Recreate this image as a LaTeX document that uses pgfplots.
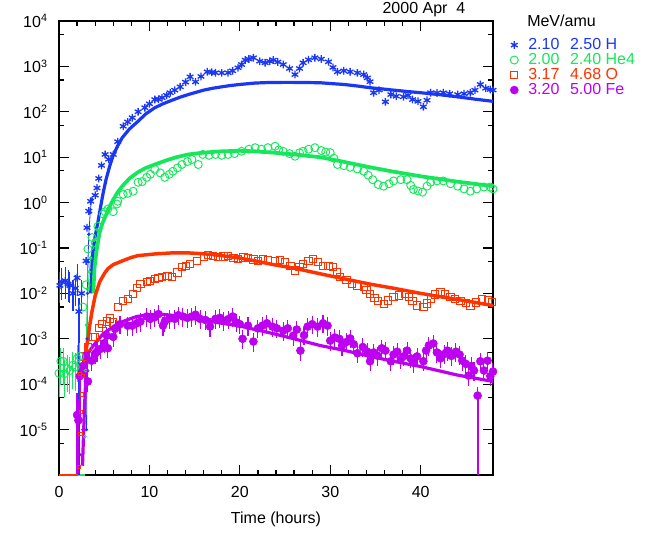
\documentclass[border=0pt]{standalone}
\usepackage{pgfplots}
\pgfplotsset{compat=1.18}
\usepackage{fontspec}
\setmainfont{Liberation Sans}
\usetikzlibrary{calc}
\definecolor{hcol}{RGB}{25,55,245}
\definecolor{hecol}{RGB}{20,232,90}
\definecolor{ocol}{RGB}{255,50,0}
\definecolor{fecol}{RGB}{190,0,240}
\begin{document}
\begin{tikzpicture}
\begin{axis}[
 name=ax,
 scale only axis, width=325.5pt, height=340.5pt,
 ymode=log, xmin=0, xmax=48, ymin=1e-6, ymax=1e4,
 axis line style={line width=1pt},
 every tick/.style={black, line width=0.9pt},
 major tick length=7.5pt, minor tick length=3.8pt,
 xtick={0,10,20,30,40}, minor x tick num=4,
 ytick={1e-5,1e-4,1e-3,1e-2,1e-1,1,10,100,1000,10000},
 yticklabels={10\textsuperscript{-5},10\textsuperscript{-4},10\textsuperscript{-3},10\textsuperscript{-2},10\textsuperscript{-1},10\textsuperscript{0},10\textsuperscript{1},10\textsuperscript{2},10\textsuperscript{3},10\textsuperscript{4}},
 minor ytick={5e-6,5e-5,5e-4,5e-3,5e-2,0.5,5,50,500,5000},
 /pgf/number format/assume math mode=true,
 tick label style={font=\fontsize{12}{14}\selectfont},
 yticklabel style={xshift=-5pt},
 xticklabel style={yshift=-5pt},
 xlabel={Time (hours)},
 xlabel style={font=\fontsize{12}{14}\selectfont, yshift=-4pt},
 legend style={draw=none, fill=none, at={(1.03,0.970)}, anchor=north west,
   font=\fontsize{12}{14}\selectfont, row sep=0pt, column sep=7.5pt,
   nodes={inner sep=0pt, text height=8.6pt, text depth=2.65pt}},
 legend cell align=left,
]
% ---- floor segments
\addplot[ocol, line width=2pt, forget plot] coordinates {(0,1e-6) (2.1,1e-6)};
\addplot[hecol, line width=2pt, forget plot] coordinates {(2.1,1e-6) (2.9,1e-6)};
% ---- long lower error bars reaching the floor
\addplot[fecol, line width=1.3pt, forget plot] coordinates {(46.3,5.6e-5) (46.3,1e-6)};
\addplot[hcol, line width=1.1pt, forget plot] coordinates {(2.2,8.0e-3) (2.2,1e-6)};
% ---- main data series (legend)
\addplot[hcol, only marks, mark=asterisk, mark size=2.9pt, line width=1pt] coordinates {
(3.0,5.2e-2)(3.1,0.28)(3.3,0.65)(3.5,1.07)(4.0,1.45)(4.2,2.1)(4.4,3.4)(4.7,6.6)(5.1,11.5)(5.5,9.0)(6.0,11.5)(6.5,22)(7.1,48)(7.6,60)(8.1,74)(8.75,100)(9.5,123)(10.0,150)(10.6,186)(11.0,190)(11.4,204)(11.9,230)(12.3,263)(12.8,300)(13.4,355)(14.0,450)(14.5,590)(15.1,457)(15.7,600)(16.4,760)(16.9,740)(17.3,724)(18.0,720)(18.7,724)(19.2,800)(19.8,933)(20.2,1100)(20.6,1380)(21.0,1450)(21.5,1550)(22.2,1300)(22.8,1200)(23.3,1300)(23.7,1380)(24.2,1250)(24.8,1100)(25.5,900)(26.1,660)(26.6,900)(27.0,1200)(27.6,1400)(28.3,1550)(29.0,1450)(29.8,1260)(30.3,950)(30.8,760)(31.5,800)(32.2,760)(33.0,720)(33.7,660)(34.1,560)(34.4,460)(34.8,263)(35.4,300)(36.1,166)(36.7,240)(37.3,220)(38.1,214)(38.6,230)(39.1,186)(39.7,170)(40.3,129)(40.7,180)(41.1,263)(41.8,260)(42.5,263)(43.2,250)(44.1,240)(44.8,250)(45.5,263)(46.0,300)(46.6,400)(47.2,330)(47.7,310)(48.0,300)};
\addlegendentry{\textcolor{hcol}{2.10\hspace{8pt}2.50 H}}
\addplot[hecol, only marks, mark=o, mark size=3pt, line width=0.7pt] coordinates {
(2.65,5.0e-3)(3.0,1.55e-2)(3.2,9.5e-2)(3.65,0.17)(4.0,0.13)(4.3,0.30)(4.9,0.56)(5.1,0.63)(5.4,0.72)(6.0,0.63)(6.4,0.93)(6.5,1.07)(7.1,1.51)(7.6,1.6)(8.2,1.78)(8.75,2.8)(9.2,2.9)(9.7,3.6)(10.1,4.2)(10.6,5.4)(11.2,4.5)(11.7,3.6)(12.2,4.2)(12.6,4.9)(13.1,5.8)(13.6,6.9)(14.2,8.0)(14.7,8.9)(15.4,6.9)(15.9,11.5)(16.6,11.0)(17.3,11.5)(18.0,11.0)(18.7,11.5)(19.4,12.0)(20.2,13.5)(21.0,15.0)(21.7,16.2)(22.4,15.0)(23.1,16.2)(23.9,17.4)(24.3,14.5)(24.8,13.5)(25.5,12.0)(26.1,10.5)(26.6,12.5)(27.0,13.5)(27.6,15.0)(28.3,16.2)(29.0,14.0)(29.5,13.0)(30.0,12.6)(30.4,9.5)(30.8,6.9)(31.5,6.5)(32.2,6.0)(33.0,5.5)(33.7,4.9)(34.2,4.0)(34.7,3.2)(35.3,2.5)(35.9,2.3)(36.5,2.6)(37.0,3.0)(37.8,3.2)(38.5,3.2)(38.9,2.4)(39.2,1.95)(39.7,1.8)(40.2,1.7)(40.7,2.3)(41.1,2.8)(41.8,3.0)(42.5,3.0)(43.3,2.6)(44.1,2.3)(44.8,2.0)(45.5,1.78)(46.2,2.0)(47.0,2.2)(47.7,2.2)(48.0,2.0)};
\addlegendentry{\textcolor{hecol}{2.00\hspace{8pt}2.40 He4}}
\addplot[ocol, only marks, mark=square, mark size=2.7pt, line width=0.7pt] coordinates {
(2.65,4.1e-4)(3.2,6.5e-4)(3.8,1.1e-3)(4.0,1.1e-3)(4.4,1.7e-3)(4.75,2.1e-3)(5.3,2.4e-3)(5.6,2.8e-3)(6.0,2.3e-3)(6.5,5.0e-3)(7.1,6.9e-3)(7.6,7.6e-3)(8.2,9.8e-3)(8.6,1.3e-2)(9.0,1.6e-2)(9.7,1.8e-2)(10.1,1.9e-2)(10.6,2.1e-2)(11.0,2.2e-2)(11.4,2.3e-2)(12.0,2.4e-2)(12.5,2.3e-2)(13.1,2.9e-2)(13.6,3.8e-2)(14.0,4.0e-2)(14.5,4.5e-2)(15.3,5.2e-2)(16.0,6.3e-2)(16.5,7.1e-2)(17.0,6.6e-2)(17.6,6.3e-2)(18.2,6.5e-2)(18.7,6.8e-2)(19.3,6.0e-2)(19.8,5.8e-2)(20.4,6.2e-2)(20.9,6.0e-2)(21.5,5.6e-2)(22.0,5.2e-2)(22.6,5.6e-2)(23.1,5.5e-2)(23.9,5.2e-2)(24.4,5.4e-2)(25.0,5.0e-2)(25.6,4.0e-2)(26.1,3.2e-2)(26.6,3.9e-2)(27.0,4.5e-2)(27.6,5.2e-2)(28.1,5.8e-2)(28.6,5.0e-2)(29.2,4.1e-2)(29.8,4.0e-2)(30.3,3.8e-2)(30.7,3.0e-2)(31.1,2.3e-2)(31.8,2.0e-2)(32.4,1.6e-2)(33.0,1.5e-2)(33.7,1.4e-2)(34.0,1.2e-2)(34.4,9.8e-3)(34.9,8.0e-3)(35.3,6.9e-3)(35.9,5.9e-3)(36.4,7.0e-3)(37.0,8.3e-3)(37.6,9.0e-3)(38.3,9.8e-3)(38.7,8.5e-3)(39.1,6.9e-3)(39.6,5.4e-3)(40.3,5.1e-3)(40.7,6.0e-3)(41.1,7.6e-3)(41.6,9.5e-3)(42.2,1.07e-2)(42.7,9.5e-3)(43.3,8.3e-3)(43.8,7.6e-3)(44.4,6.9e-3)(45.0,6.2e-3)(45.5,5.4e-3)(46.1,6.3e-3)(46.8,7.6e-3)(47.4,7.0e-3)(47.9,6.6e-3)};
\addlegendentry{\textcolor{ocol}{3.17\hspace{8pt}4.68 O}}
\addplot[fecol, only marks, mark=*, mark size=3pt,
  error bars/.cd, y dir=both, y explicit relative, error mark=none,
  error bar style={fecol, line width=0.8pt}]
  table[y error plus expr=0.55, y error minus expr=0.4] {
t v
2.6 2.5e-4
2.8 1.9e-4
3.0 4.2e-4
3.2 1.15e-4
3.6 3.3e-4
4.0 4.7e-4
4.2 5.2e-4
4.6 6.0e-4
5.0 8e-4
5.3 1.17e-3
5.4 6.2e-4
6.0 1.1e-3
6.2 1.66e-3
6.75 2.1e-3
7.6 1.95e-3
8.1 1.95e-3
8.6 2.2e-3
9.0 2.4e-3
9.7 3.1e-3
10.1 2.75e-3
10.6 3.0e-3
11.0 3.5e-3
11.5 1.95e-3
11.7 2.4e-3
12.2 2.8e-3
12.8 2.75e-3
13.2 3.3e-3
13.7 3.1e-3
14.2 2.9e-3
14.7 3.1e-3
15.1 3.4e-3
15.6 2.75e-3
16.2 2.6e-3
16.7 1.86e-3
17.3 2.75e-3
17.8 2.9e-3
18.2 2.5e-3
18.7 2.7e-3
19.2 3.1e-3
19.6 2.3e-3
20.0 2.1e-3
20.3 1.0e-3
20.9 1.95e-3
21.5 8.7e-4
22.0 1.7e-3
22.5 1.95e-3
23.0 2.2e-3
23.6 1.86e-3
24.1 1.7e-3
24.8 1.5e-3
25.3 1.7e-3
25.9 1.17e-3
26.3 1.6e-3
26.7 5.5e-4
27.1 1.2e-3
27.5 1.86e-3
28.0 2.1e-3
28.6 1.86e-3
29.2 2.2e-3
29.7 1.95e-3
30.0 9.1e-4
30.5 1.07e-3
31.0 1.0e-3
31.3 7.1e-4
31.8 8.5e-4
32.2 1.02e-3
32.6 7.6e-4
33.0 4.8e-4
33.6 6.6e-4
34.1 5.2e-4
34.4 3.2e-4
34.8 5.0e-4
35.2 4.3e-4
35.7 6.2e-4
36.1 5.5e-4
36.7 3.2e-4
37.0 4.5e-4
37.4 5.2e-4
37.8 3.6e-4
38.1 4.1e-4
38.5 5.5e-4
38.9 3.7e-4
39.2 3.0e-4
39.6 4.1e-4
40.3 3.2e-4
40.6 5.5e-4
40.9 7.1e-4
41.4 7.9e-4
41.8 5.0e-4
42.2 3.7e-4
42.6 4.6e-4
42.95 5.5e-4
43.4 4.2e-4
43.9 5.2e-4
44.3 4.5e-4
44.6 3.3e-4
45.0 2.8e-4
45.3 1.55e-4
45.6 2.5e-4
45.9 2.0e-4
46.3 5.6e-5
46.6 3.2e-4
47.0 2.0e-4
47.4 3.3e-4
47.7 1.5e-4
48.0 1.9e-4
};
\addlegendentry{\textcolor{fecol}{3.20\hspace{8pt}5.00 Fe}}
% ---- early points with error bars
\addplot[hcol, only marks, mark=asterisk, mark size=2.9pt, line width=1pt, forget plot,
  error bars/.cd, y dir=both, y explicit relative, error mark=none,
  error bar style={hcol, line width=0.8pt}] coordinates {
(0.1,1.5e-2) += (0,1.0) -= (0,0.6)
(0.3,1.8e-2) += (0,1.0) -= (0,0.6)
(0.7,1.9e-2) += (0,1.0) -= (0,0.6)
(1.0,1.6e-2) += (0,1.0) -= (0,0.6)
(1.2,1.5e-2) += (0,1.0) -= (0,0.6)
(1.55,1.0e-2) += (0,1.0) -= (0,0.6)
(1.8,1.3e-2) += (0,1.0) -= (0,0.6)
(2.0,2.2e-2) += (0,1.0) -= (0,0.6)
(2.2,4.0e-3) += (0,1.0) -= (0,0.6)
(2.5,1.0e-2) += (0,1.0) -= (0,0.6)
};
\addplot[hecol, only marks, mark=o, mark size=3pt, line width=0.7pt, forget plot,
  error bars/.cd, y dir=both, y explicit relative, error mark=none,
  error bar style={hecol, line width=0.8pt}] coordinates {
(0.0,1.74e-4) += (0,1.0) -= (0,0.7)
(0.2,3.2e-4) += (0,1.0) -= (0,0.7)
(0.45,3.2e-4) += (0,1.0) -= (0,0.7)
(0.6,1.7e-4) += (0,1.0) -= (0,0.7)
(0.9,2.2e-4) += (0,1.0) -= (0,0.7)
(1.2,2.0e-4) += (0,1.0) -= (0,0.7)
(1.5,2.6e-4) += (0,1.0) -= (0,0.7)
(1.8,2.4e-4) += (0,1.0) -= (0,0.7)
(2.0,3.7e-4) += (0,1.0) -= (0,0.7)
(2.3,4.1e-4) += (0,1.0) -= (0,0.7)
};
\addplot[fecol, only marks, mark=*, mark size=3pt, forget plot,
  error bars/.cd, y dir=both, y explicit relative, error mark=none,
  error bar style={color=fecol, line width=1.2pt}] coordinates {
(2.0,2.1e-5) += (0,2.0) -= (0,0.95)
(2.15,1.6e-5) += (0,2.0) -= (0,0.93)
(2.3,1.5e-4) += (0,1.0) -= (0,0.9)
};
% ---- high-resolution early points
\addplot[hcol, mark=*, mark size=0.9pt, line width=0.6pt, forget plot] coordinates {
(3.05,1.0e-5)(3.1,1e-3)(3.15,1e-2)(3.2,5e-2)(3.3,0.2)(3.45,0.6)(3.6,1.2)};
\addplot[hecol, mark=o, mark size=1.1pt, line width=0.6pt, forget plot] coordinates {
(2.85,7e-6)(2.95,2e-4)(3.05,2e-3)(3.2,1.2e-2)(3.35,3e-2)(3.5,6e-2)(3.7,0.1)(3.9,0.15)(4.2,0.25)};
\addplot[ocol, only marks, mark=square, mark size=1.2pt, line width=0.5pt, forget plot] coordinates {
(2.2,1.5e-6)(2.35,8e-6)(2.45,2.5e-5)(2.55,6e-5)(2.3,1.7e-4)(2.6,1.5e-4)};
\addplot[fecol, only marks, mark=*, mark size=0.9pt, forget plot] coordinates {
(2.4,2.8e-6)(2.6,1e-5)(2.8,3.2e-5)(3.0,1e-4)(3.2,2e-4)};
% ---- fits
\addplot[hcol, line width=2.4pt, forget plot] coordinates {
(3.5,1e-2)(3.65,4e-2)(3.8,0.1)(4.0,0.18)(4.3,0.37)(4.6,0.8)(4.9,1.7)(5.2,3.2)(5.6,6.3)(6.0,11)(6.5,18)(7.0,27)(7.8,42)(8.75,62)(9.6,90)(10.6,123)(11.5,150)(12.5,180)(13.4,210)(14.3,240)(15.2,270)(16,300)(17,330)(18,355)(19,380)(20,400)(21.7,430)(23,440)(25,445)(27,443)(28.9,436)(30,420)(31.5,400)(33,370)(34.4,339)(36,315)(37,300)(38.5,280)(40,263)(42,240)(44,215)(46,190)(48,170)};
\addplot[hecol, line width=2.8pt, forget plot] coordinates {
(3.8,1e-2)(3.9,3e-2)(4.0,5e-2)(4.2,0.1)(4.5,0.22)(4.8,0.35)(5.1,0.48)(5.5,0.75)(6.0,1.17)(6.5,1.7)(7.0,2.3)(7.8,3.4)(8.75,4.7)(9.6,5.8)(10.6,6.9)(12,8.7)(13,10)(14.3,11.5)(16,12.6)(18,13.5)(20,13.8)(21.7,13.5)(23.7,12.6)(26,11.5)(28.9,10.0)(31.5,7.9)(34.4,6.0)(37,4.8)(40,3.8)(44,2.9)(48,2.3)};
\addplot[ocol, line width=2.6pt, forget plot] coordinates {
(2.7,2e-4)(2.9,4.3e-4)(3.2,1e-3)(3.4,2e-3)(3.65,4e-3)(4.0,8.9e-3)(4.5,1.8e-2)(5.0,2.7e-2)(5.4,3.5e-2)(6.0,4.3e-2)(7.0,5.2e-2)(8.0,6.2e-2)(8.75,6.8e-2)(10.6,7.4e-2)(12.5,7.8e-2)(14.3,7.8e-2)(16.2,7.4e-2)(18,6.8e-2)(20,6.0e-2)(21.7,5.2e-2)(23.7,4.3e-2)(26,3.6e-2)(28.9,2.7e-2)(31.5,2.1e-2)(34.4,1.6e-2)(37,1.3e-2)(40,1.0e-2)(44,7.4e-3)(48,5.4e-3)};
\addplot[fecol, line width=2.4pt, forget plot] coordinates {
(2.6,1.6e-6)(2.8,2.5e-5)(3.0,2e-4)(3.1,4.3e-4)(3.4,5.5e-4)(3.8,7.1e-4)(4.9,1.3e-3)(6.4,2.1e-3)(7.5,2.6e-3)(8.6,3.1e-3)(10.1,3.4e-3)(11.2,3.5e-3)(12.5,3.3e-3)(14.3,2.9e-3)(16.2,2.5e-3)(18,2.2e-3)(19.8,1.95e-3)(21.7,1.6e-3)(23.7,1.3e-3)(26,1.0e-3)(28.9,7.1e-4)(31.5,5.6e-4)(34.4,4.1e-4)(37,3.2e-4)(40,2.45e-4)(44,1.6e-4)(48,1.15e-4)};
\end{axis}
% ---- title and legend header
\node[anchor=base east, font=\fontsize{12}{14}\selectfont] at ($(ax.north west)+(308.25pt,5.6pt)$) {2000 Apr\ \ 4};
\node[anchor=base west, font=\fontsize{12}{14}\selectfont, inner sep=0pt] at ($(ax.north east)+(25.5pt,-4.5pt)$) {MeV/amu};
\pgfresetboundingbox
\path ($(ax.south west)+(-44.25pt,-44.25pt)$) rectangle ($(ax.north east)+(120.75pt,15.75pt)$);
\end{tikzpicture}
\end{document}
